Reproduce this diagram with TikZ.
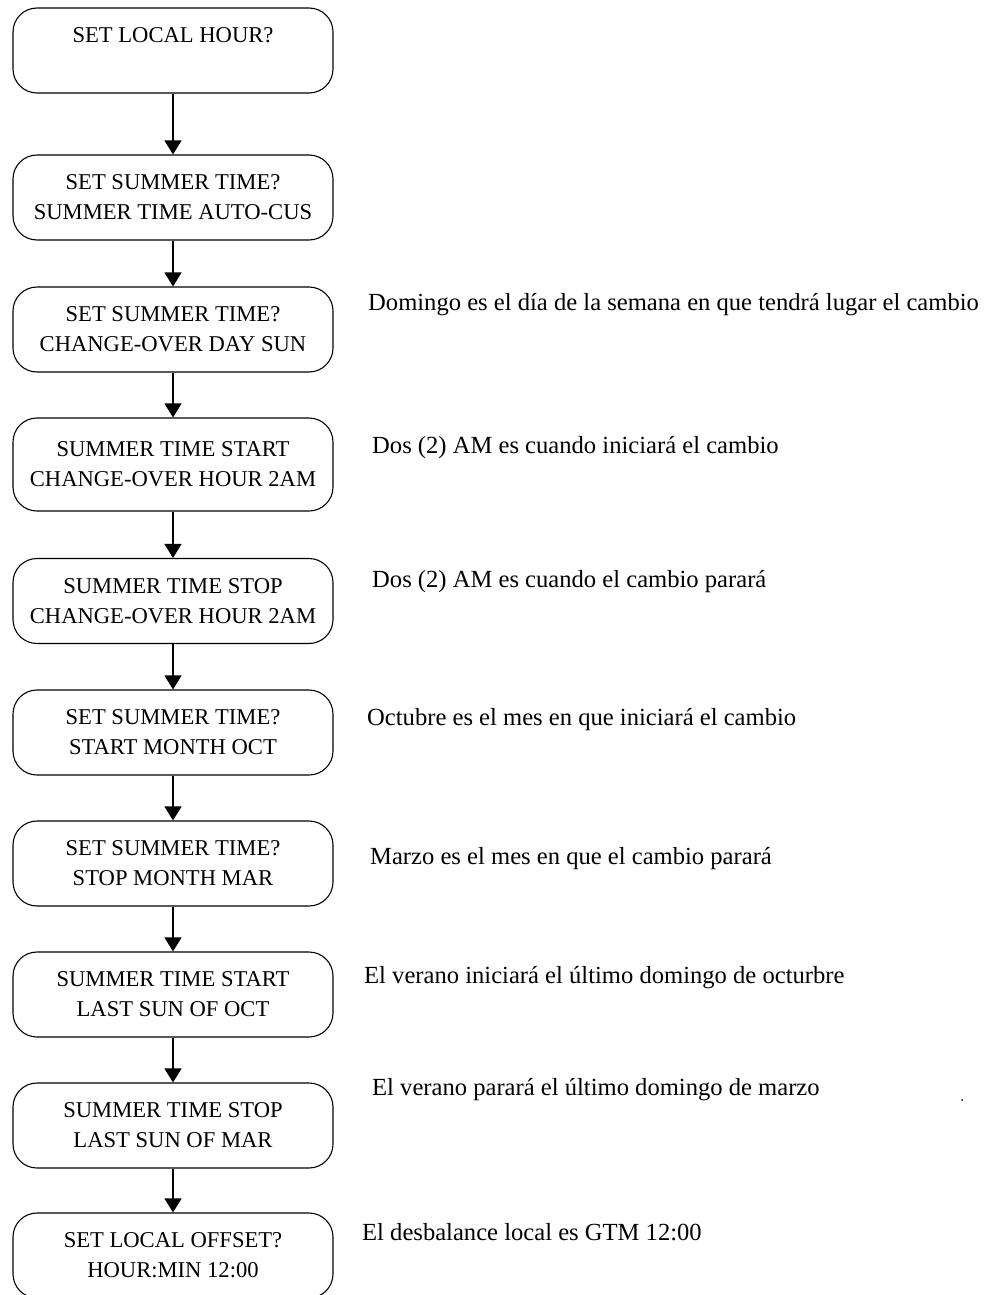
\documentclass[tikz,border=0pt]{standalone}
\usepackage{fontspec}
\setmainfont{Liberation Serif}
\usetikzlibrary{arrows.meta}
\newcommand{\boxfont}{\fontsize{22.6pt}{30pt}\selectfont}
\newcommand{\notefont}{\fontsize{24.6pt}{28pt}\selectfont}
\tikzset{
  flowbox/.style={draw, line width=1.1pt, rounded corners=24pt,
    minimum width=320pt, minimum height=85pt, inner sep=0pt,
    align=center, font=\boxfont},
  flowarrow/.style={line width=1.1pt, -{Triangle[width=17pt,length=14pt]}},
  note/.style={anchor=base west, inner sep=0pt, font=\notefont}
}
\begin{document}
\begin{tikzpicture}[x=1pt, y=-1pt]
\useasboundingbox (0,0) rectangle (988,1295);

% flow steps
\node[flowbox] (b1) at (173,50.5) {SET LOCAL HOUR?\\\mbox{}};
\node[flowbox] (b2) at (173,197.5) {SET SUMMER TIME?\\SUMMER TIME AUTO-CUS};
\node[flowbox] (b3) at (173,329.5) {SET SUMMER TIME?\\CHANGE-OVER DAY SUN};
\node[flowbox, minimum height=93pt] (b4) at (173,464.5) {SUMMER TIME START\\CHANGE-OVER HOUR 2AM};
\node[flowbox] (b5) at (173,601) {SUMMER TIME STOP\\CHANGE-OVER HOUR 2AM};
\node[flowbox] (b6) at (173,732.5) {SET SUMMER TIME?\\START MONTH OCT};
\node[flowbox] (b7) at (173,863.5) {SET SUMMER TIME?\\STOP MONTH MAR};
\node[flowbox] (b8) at (173,994.5) {SUMMER TIME START\\LAST SUN OF OCT};
\node[flowbox] (b9) at (173,1125.5) {SUMMER TIME STOP\\LAST SUN OF MAR};
\node[flowbox] (b10) at (173,1255.5) {SET LOCAL OFFSET?\\HOUR:MIN 12:00};

% connectors
\foreach \a/\b in {b1/b2,b2/b3,b3/b4,b4/b5,b5/b6,b6/b7,b7/b8,b8/b9,b9/b10}
  \draw[flowarrow] (\a.south) -- (\b.north);

% explanatory notes
\node[note] (n3) at (368,310) {Domingo es el día de la semana en que tendrá lugar el cambio};
\node[note] (n4) at (372,453) {Dos (2) AM es cuando iniciará el cambio};
\node[note] (n5) at (372,587) {Dos (2) AM es cuando el cambio parará};
\node[note] (n6) at (367,725) {Octubre es el mes en que iniciará el cambio};
\node[note] (n7) at (370,864) {Marzo es el mes en que el cambio parará};
\node[note] (n8) at (364,983) {El verano iniciará el último domingo de octurbre};
\node[note] (n9) at (372,1095) {El verano parará el último domingo de marzo};
\node[note] (n10) at (362,1240) {El desbalance local es GTM 12:00};

% stray mark
\fill (962,1100) circle (1pt);
\end{tikzpicture}
\end{document}
